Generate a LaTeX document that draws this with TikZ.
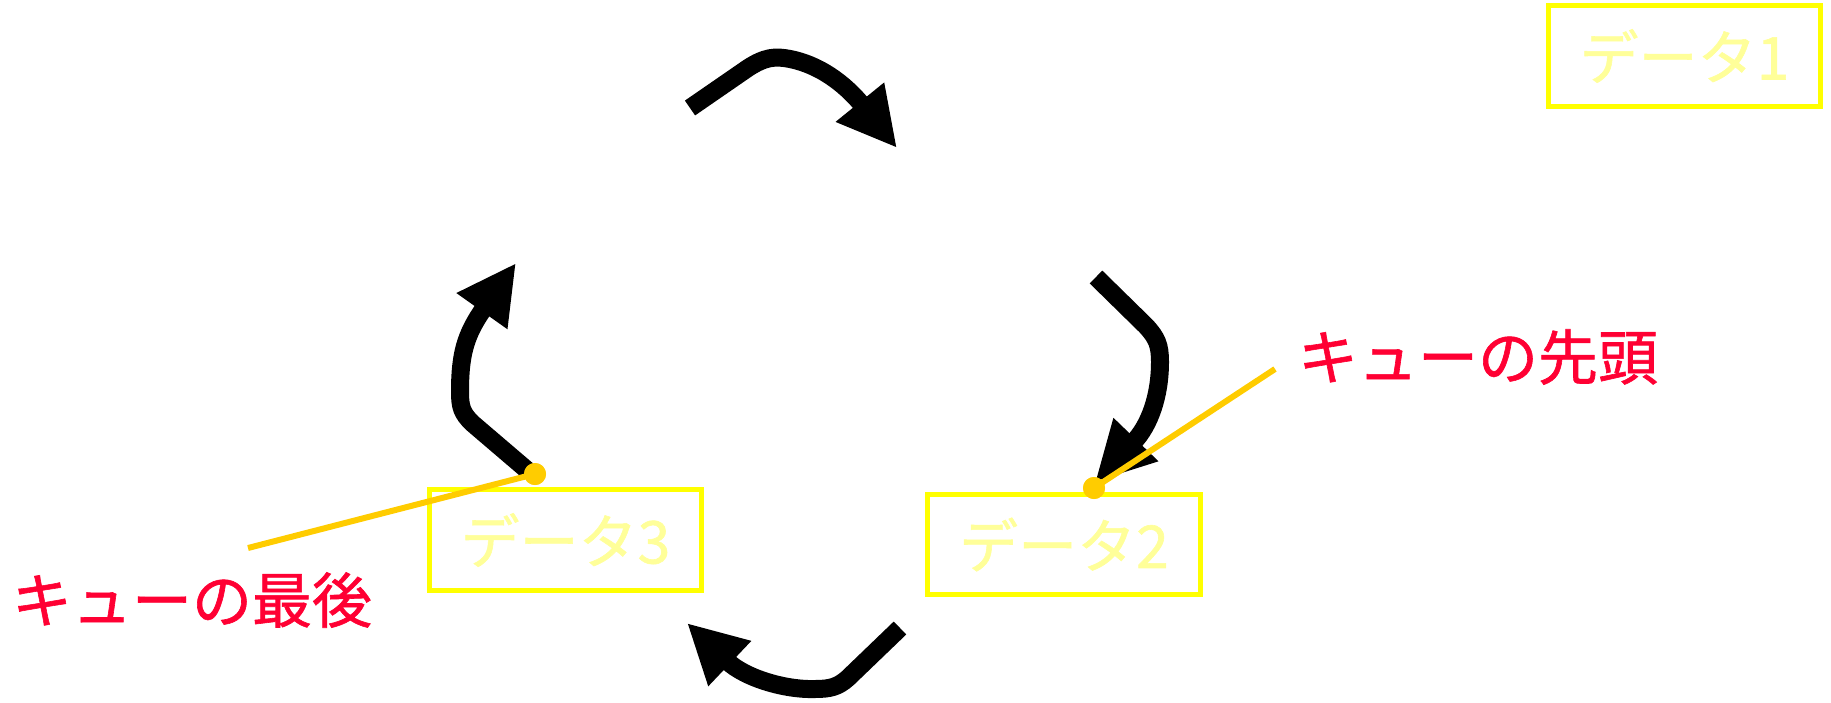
\documentclass[tikz,border=0pt]{standalone}
\usepackage{fontspec}
\setmainfont[FakeBold=1]{Noto Sans CJK JP}
\usetikzlibrary{arrows.meta}
\definecolor{boxyellow}{HTML}{FFFF00}
\definecolor{txtyellow}{HTML}{FFFF99}
\definecolor{labred}{HTML}{FF0033}
\definecolor{gold}{HTML}{FFCC00}
\tikzset{
  databox/.style={draw=boxyellow, line width=5pt, minimum width=272pt, minimum height=101pt, inner sep=0pt,
    text=txtyellow, font=\fontsize{59}{61}\selectfont},
  qlabel/.style={text=labred, font=\fontsize{60}{62}\selectfont, inner sep=0pt},
  cyclearrow/.style={line width=18pt, -{Triangle[length=59pt,width=58pt]}},
  pointer/.style={draw=gold, line width=6pt},
  dot/.style={circle, fill=gold, minimum size=22pt, inner sep=0pt},
}
\begin{document}
\begin{tikzpicture}[x=1pt,y=-1pt]
\useasboundingbox (0,0) rectangle (1831,702);
% data boxes
\node[databox] (d1) at (1684.5,56) {データ1};
\node[databox] (d3) at (565.5,540) {データ3};
\node[databox, minimum width=273pt, minimum height=100pt] (d2) at (1064,544.5) {データ2};
% cycle arrows
\coordinate (a1s) at (690,108);
\coordinate (a1e) at (897,148);
\coordinate (a2s) at (1096,277);
\coordinate (a2e) at (1095,482);
\coordinate (a3s) at (900,628);
\coordinate (a3e) at (687,623);
\coordinate (a4s) at (527,470);
\coordinate (a4e) at (516,263);
\draw[cyclearrow] (a1s) -- (748,68) .. controls (765,57) and (775,56) .. (790,59) .. controls (825,66) and (850,90) .. (a1e);
\draw[cyclearrow] (a2s) -- (1146,326) .. controls (1157,338) and (1160,345) .. (1160,362) .. controls (1160,395) and (1150,425) .. (a2e);
\draw[cyclearrow] (a3s) -- (848,678) .. controls (838,687) and (830,689) .. (815,689) .. controls (785,690) and (745,678) .. (a3e);
\draw[cyclearrow] (a4s) -- (472,423) .. controls (462,413) and (460,407) .. (460,392) .. controls (460,355) and (465,335) .. (a4e);
% pointers
\node[dot] (hd) at (1094,488) {};
\node[dot] (tl) at (535,474) {};
\coordinate (hp) at (1275,369);
\coordinate (tp) at (248,548);
\draw[pointer] (hp) -- (hd.center);
\draw[pointer] (tp) -- (tl.center);
\node[dot] at (hd) {};
\node[dot] at (tl) {};
% labels
\node[qlabel] (lh) at (1478,357) {キューの先頭};
\node[qlabel] (lt) at (192,600) {キューの最後};
\end{tikzpicture}
\end{document}
